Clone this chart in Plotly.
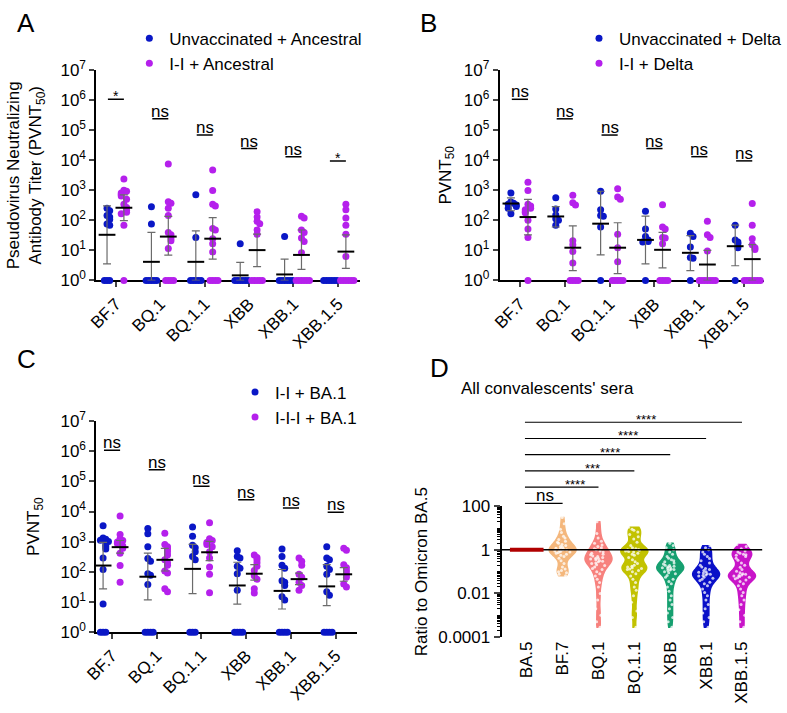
import numpy as np
import plotly.graph_objects as go

# ---- data (log10 titers; 0 = 10^0 floor) ----
variants = ["BF.7", "BQ.1", "BQ.1.1", "XBB", "XBB.1", "XBB.1.5"]

a_unvax_log = [
    [2.40, 2.32, 2.16, 2.11, 2.03, 1.88, 1.84, 0, 0, 0],
    [2.45, 1.88, 0, 0, 0, 0, 0],
    [2.85, 1.43, 0, 0, 0, 0, 0],
    [1.22, 0, 0, 0, 0, 0, 0],
    [1.46, 0, 0, 0, 0, 0, 0],
    [0, 0, 0, 0, 0, 0],
]
a_ii_log = [
    [3.38, 3.00, 2.97, 2.91, 2.86, 2.81, 2.70, 2.54, 2.43, 2.32, 2.27, 2.22, 1.84, 0],
    [3.88, 2.62, 2.57, 2.40, 2.16, 1.60, 1.52, 1.41, 1.32, 1.06, 0, 0, 0, 0],
    [3.68, 2.99, 2.54, 2.48, 1.73, 1.68, 1.39, 1.22, 0.95, 0, 0, 0, 0],
    [2.29, 2.11, 1.97, 1.89, 1.68, 1.54, 0, 0, 0, 0, 0],
    [2.14, 2.08, 1.68, 1.60, 1.41, 1.30, 0.92, 0, 0, 0, 0, 0, 0],
    [2.54, 2.35, 2.08, 1.84, 1.54, 0.80, 0, 0, 0, 0, 0, 0],
]
a_unvax_mean = [1.52, 0.62, 0.62, 0.17, 0.20, None]
a_unvax_hi = [2.48, 1.60, 1.65, 0.60, 0.71, None]
a_unvax_lo = [0.55, 0, 0, 0, 0, None]
a_ii_mean = [2.42, 1.46, 1.39, 1.01, 0.85, 0.96]
a_ii_hi = [2.85, 2.13, 2.09, 1.54, 1.68, 1.52]
a_ii_lo = [1.99, 0.84, 0.71, 0.46, 0.37, 0.40]
a_sig = ["*", "ns", "ns", "ns", "ns", "*"]

b_unvax_log = [
    [2.91, 2.61, 2.57, 2.54, 2.51, 2.46, 2.40, 2.22],
    [2.75, 2.38, 2.18, 2.05, 2.00, 1.84],
    [2.97, 2.35, 2.16, 2.14, 1.78, 0],
    [2.30, 1.71, 1.46, 1.35, 1.30, 1.28, 0],
    [1.57, 1.46, 1.11, 0.76, 0.74, 0],
    [1.84, 1.35, 1.28, 1.22, 1.09, 0],
]
b_ii_log = [
    [3.27, 2.99, 2.54, 2.48, 2.40, 2.35, 2.29, 2.25, 2.00, 1.71, 1.43, 0],
    [2.84, 2.59, 2.51, 1.32, 1.19, 0.96, 0.58, 0, 0, 0, 0],
    [3.05, 2.78, 2.70, 1.54, 1.09, 0.62, 0, 0, 0, 0, 0],
    [2.52, 1.78, 1.71, 1.43, 1.41, 1.22, 0, 0, 0, 0],
    [1.97, 1.52, 1.43, 0.98, 0, 0, 0, 0, 0, 0, 0],
    [2.56, 1.84, 1.39, 1.19, 1.09, 1.03, 0, 0, 0, 0, 0, 0, 0],
]
b_unvax_mean = [2.56, 2.13, 1.89, 1.35, 0.92, 1.14]
b_unvax_hi = [2.75, 2.46, 2.97, 2.14, 1.49, 1.84]
b_unvax_lo = [2.32, 1.78, 0.85, 0.55, 0.33, 0.49]
b_ii_mean = [2.11, 1.09, 1.09, 1.02, 0.53, 0.71]
b_ii_hi = [2.70, 1.82, 1.92, 1.60, 1.00, 1.19]
b_ii_lo = [1.52, 0.33, 0.23, 0.42, 0, 0]
b_sig = ["ns"] * 6

c_ii_log = [
    [3.53, 3.12, 3.08, 3.05, 3.01, 2.90, 2.83, 2.76, 2.46, 2.08, 0.94, 0, 0, 0],
    [3.44, 3.26, 2.83, 2.44, 2.35, 1.94, 1.89, 1.58, 0, 0, 0, 0],
    [3.49, 3.18, 2.88, 2.80, 2.67, 2.51, 2.40, 0, 0, 0],
    [2.70, 2.51, 2.46, 2.19, 2.12, 1.94, 1.39, 0, 0, 0, 0],
    [2.76, 2.51, 2.22, 2.12, 1.71, 1.66, 1.55, 1.18, 1.07, 0, 0, 0, 0],
    [2.83, 2.46, 2.40, 2.19, 2.08, 1.92, 1.34, 1.23, 0, 0, 0, 0],
]
c_iii_log = [
    [3.85, 3.24, 3.10, 3.04, 2.99, 2.94, 2.86, 2.78, 2.62, 2.21, 1.66],
    [3.28, 2.91, 2.83, 2.76, 2.67, 2.56, 2.40, 2.30, 2.22, 2.03, 1.96, 1.44, 1.34],
    [3.63, 3.10, 3.04, 2.97, 2.91, 2.83, 2.67, 2.46, 2.16, 1.92, 1.31],
    [2.56, 2.48, 2.40, 2.30, 2.19, 2.05, 1.87, 1.76, 1.44, 1.30],
    [2.46, 2.35, 2.22, 1.92, 1.82, 1.66, 1.55, 1.39],
    [2.78, 2.72, 2.24, 2.14, 2.03, 1.92, 1.82, 1.60, 1.50],
]
c_ii_mean = [2.21, 1.84, 2.10, 1.55, 1.37, 1.52]
c_ii_hi = [2.98, 2.62, 2.91, 2.32, 2.08, 2.24]
c_ii_lo = [1.44, 1.07, 1.28, 0.93, 0.77, 0.88]
c_iii_mean = [2.82, 2.40, 2.65, 1.94, 1.76, 1.92]
c_iii_hi = [3.04, 2.78, 3.01, 2.24, 1.96, 2.14]
c_iii_lo = [2.62, 2.03, 2.37, 1.73, 1.58, 1.69]
c_sig = ["ns"] * 6

# height (log10) of the significance bars above each variant
sig_level = [6.03, 5.38, 4.84, 4.39, 4.12, 3.98]

# panel D: log10(ratio to BA.5)
d_labels = ["BA.5", "BF.7", "BQ.1", "BQ.1.1", "XBB", "XBB.1", "XBB.1.5"]
d_ba5 = [0.0]
d_bf7 = [1.48, 1.2, 0.95, 0.8, 0.62, 0.55, 0.48, 0.4, 0.35, 0.3, 0.25, 0.2, 0.15, 0.12,
         0.08, 0.05, 0.03, 0.0, 0.0, -0.02, -0.05, -0.08, -0.1, -0.12, -0.15, -0.2, -0.25,
         -0.3, -0.38, -0.5, -0.62, -0.78, -0.88, -0.95, -1.0, -1.05, -1.12, -1.19]
d_bq1 = [1.29, 1.0, 0.75, 0.55, 0.4, 0.3, 0.22, 0.15, 0.1, 0.05, 0.0, -0.05, -0.1, -0.15,
         -0.2, -0.22, -0.28, -0.3, -0.35, -0.38, -0.4, -0.42, -0.45, -0.5, -0.52, -0.55,
         -0.6, -0.62, -0.68, -0.72, -0.78, -0.85, -0.9, -1.0, -1.1, -1.2, -1.35, -1.5,
         -1.7, -2.0, -2.3, -2.7, -3.0, -3.3, -3.55]
d_bq11 = [1.04, 0.95, 0.9, 0.82, 0.7, 0.6, 0.5, 0.35, 0.2, 0.1, 0.05, 0.02, 0.0, -0.02,
          -0.05, -0.08, -0.1, -0.15, -0.2, -0.25, -0.35, -0.45, -0.55, -0.62, -0.7, -0.75,
          -0.78, -0.82, -0.85, -0.88, -0.9, -0.95, -1.0, -1.1, -1.2, -1.35, -1.5, -1.7,
          -1.85, -2.1, -2.4, -2.8, -3.1, -3.55]
d_xbb = [0.3, 0.2, 0.1, 0.0, -0.1, -0.2, -0.3, -0.38, -0.45, -0.5, -0.55, -0.6, -0.65,
         -0.7, -0.72, -0.75, -0.78, -0.8, -0.82, -0.85, -0.88, -0.9, -0.92, -0.95, -1.0,
         -1.05, -1.1, -1.18, -1.25, -1.35, -1.45, -1.55, -1.7, -1.9, -2.1, -2.3, -2.5,
         -2.7, -2.9, -3.1, -3.3, -3.55]
d_xbb1 = [0.19, 0.1, 0.0, -0.1, -0.2, -0.3, -0.4, -0.5, -0.6, -0.7, -0.78, -0.85, -0.9,
          -0.95, -1.0, -1.03, -1.06, -1.1, -1.12, -1.15, -1.18, -1.2, -1.25, -1.3, -1.35,
          -1.4, -1.48, -1.55, -1.65, -1.8, -1.95, -2.1, -2.3, -2.5, -2.7, -2.9, -3.1,
          -3.3, -3.55]
d_xbb15 = [0.25, 0.15, 0.05, -0.05, -0.1, -0.15, -0.2, -0.22, -0.25, -0.3, -0.38, -0.48,
           -0.6, -0.7, -0.8, -0.9, -0.98, -1.05, -1.1, -1.12, -1.15, -1.18, -1.2, -1.22,
           -1.25, -1.28, -1.32, -1.38, -1.45, -1.55, -1.65, -1.8, -1.95, -2.1, -2.3, -2.5,
           -2.75, -3.0, -3.3, -3.55]
d_sig = ["ns", "****", "***", "****", "****", "****"]

BLUE = "#0a17c6"
PURPLE = "#b520ec"
d_colors = ["#b00000", "#f4b77c", "#f7817d", "#c2c200", "#16a070", "#0a10c8", "#c814c8"]
FONT = "Liberation Sans, Arial, sans-serif"
FS = 17
W, H = 787, 713


def xdom(left, right):
    return [left / W, right / W]


def ydom(top, bottom):
    return [1 - bottom / H, 1 - top / H]


def swarm(vals, center, step=0.06, gap=0.13):
    # spread points that sit close together, like a Prism dot plot
    xs, placed = [], []
    for v in vals:
        k = sum(1 for p in placed if abs(p - v) < gap)
        placed.append(v)
        off = step * ((k + 1) // 2) * (1 if k % 2 else -1)
        xs.append(center + off)
    return xs


fig = go.Figure()


def add_points(groups, offset, color, name, ax, legend):
    xs, ys = [], []
    for i, vals in enumerate(groups):
        xs += swarm(vals, i + offset)
        ys += [10 ** v for v in vals]
    fig.add_trace(go.Scatter(
        x=xs, y=ys, mode="markers", name=name, legend=legend,
        marker=dict(size=7, color=color), cliponaxis=False,
        xaxis="x" + ax, yaxis="y" + ax))


def add_means(mean, hi, lo, offset, ax):
    xs, ys, up, down = [], [], [], []
    for i, m in enumerate(mean):
        if m is None:
            continue
        xs.append(i + offset)
        ys.append(10 ** m)
        up.append(10 ** hi[i] - 10 ** m)
        down.append(10 ** m - 10 ** lo[i])
    fig.add_trace(go.Scatter(
        x=xs, y=ys, mode="markers", showlegend=False, cliponaxis=False,
        marker=dict(symbol="line-ew", size=12, line=dict(width=2, color="black")),
        error_y=dict(type="data", symmetric=False, array=up, arrayminus=down,
                     color="#6b6b6b", thickness=1.2, width=4),
        xaxis="x" + ax, yaxis="y" + ax))


panels = [
    ("", a_unvax_log, a_ii_log, "Unvaccinated + Ancestral", "I-I + Ancestral",
     (a_unvax_mean, a_unvax_hi, a_unvax_lo), (a_ii_mean, a_ii_hi, a_ii_lo), a_sig, "legend"),
    ("2", b_unvax_log, b_ii_log, "Unvaccinated + Delta", "I-I + Delta",
     (b_unvax_mean, b_unvax_hi, b_unvax_lo), (b_ii_mean, b_ii_hi, b_ii_lo), b_sig, "legend2"),
    ("3", c_ii_log, c_iii_log, "I-I + BA.1", "I-I-I + BA.1",
     (c_ii_mean, c_ii_hi, c_ii_lo), (c_iii_mean, c_iii_hi, c_iii_lo), c_sig, "legend3"),
]

shapes, annotations = [], []
for ax, g1, g2, n1, n2, s1, s2, sig, leg in panels:
    add_points(g1, -0.2, BLUE, n1, ax, leg)
    add_points(g2, 0.18, PURPLE, n2, ax, leg)
    add_means(*s1, -0.2, ax)
    add_means(*s2, 0.18, ax)
    for i, (lab, lev) in enumerate(zip(sig, sig_level)):
        shapes.append(dict(type="line", xref="x" + ax, yref="y%s domain" % ax,
                           x0=i - 0.18, x1=i + 0.18, y0=lev / 7, y1=lev / 7,
                           line=dict(color="black", width=1.5)))
        annotations.append(dict(text=lab, xref="x" + ax, yref="y%s domain" % ax,
                                x=i, y=lev / 7, yanchor="bottom", showarrow=False,
                                yshift=-4 if lab == "ns" else -7,
                                font=dict(size=FS if lab == "ns" else 14)))

# panel D
d_series = [d_bf7, d_bq1, d_bq11, d_xbb, d_xbb1, d_xbb15]
d_xrange = [-0.70, 6.57]
fig.add_trace(go.Scatter(x=d_xrange, y=[0, 0], mode="lines", showlegend=False,
                         line=dict(color="black", width=1.5), xaxis="x4", yaxis="y4"))
fig.add_trace(go.Scatter(x=[0] * len(d_ba5), y=d_ba5, mode="markers", showlegend=False,
                         marker=dict(symbol="line-ew", size=24,
                                     line=dict(width=4, color=d_colors[0])),
                         xaxis="x4", yaxis="y4"))
for i, vals in enumerate(d_series, start=1):
    col = d_colors[i]
    fig.add_trace(go.Violin(
        x=[i] * len(vals), y=vals, showlegend=False, width=0.75, scalemode="width",
        spanmode="hard", bandwidth=0.2, fillcolor=col, line=dict(color=col, width=1.5),
        opacity=1, points="all", pointpos=0, jitter=0.7,
        marker=dict(size=3, color="rgba(255,255,255,0.75)"),
        xaxis="x4", yaxis="y4"))

for k, lab in enumerate(d_sig):
    yy = 1.022 + 0.124 * k
    shapes.append(dict(type="line", xref="x4", yref="y4 domain", x0=-0.05, x1=k + 1,
                       y0=yy, y1=yy, line=dict(color="black", width=1.2)))
    annotations.append(dict(text=lab, xref="x4", yref="y4 domain", x=(k + 1) / 2,
                            y=yy, yanchor="bottom", showarrow=False,
                            xshift=0 if lab == "ns" else 12,
                            yshift=-4 if lab == "ns" else -7,
                            font=dict(size=FS if lab == "ns" else 13)))

annotations.append(dict(text="All convalescents' sera", xref="paper", yref="paper",
                        x=643 / W, y=1 - 389 / H, showarrow=False, font=dict(size=FS)))
for letter, px, py in [("A", 2, -6), ("B", 418, -6), ("C", 2, 341), ("D", 428, 350)]:
    annotations.append(dict(text=letter, xref="paper", yref="paper", x=px / W,
                            y=1 - py / H, xanchor="left", yanchor="top",
                            showarrow=False, font=dict(size=26)))

log_ticks = dict(type="log", range=[0, 7], tickvals=[10 ** k for k in range(8)],
                 ticktext=["10<sup>%d</sup>" % k for k in range(8)],
                 showline=True, linewidth=2, linecolor="black", ticks="outside",
                 ticklen=5, tickwidth=2, showgrid=False, zeroline=False,
                 tickfont=dict(size=FS))
cat_ticks = dict(tickvals=list(range(6)), ticktext=variants, tickangle=-45,
                 showline=True, linewidth=2, linecolor="black", ticks="outside",
                 ticklen=5, tickwidth=2, showgrid=False, zeroline=False,
                 tickfont=dict(size=FS), layer="below traces")

d_minor = [d + np.log10(m) for d in range(-4, 2) for m in range(2, 10)] + [-3, -1, 1]

legend_style = dict(xanchor="left", yanchor="top", bgcolor="rgba(0,0,0,0)",
                    font=dict(size=FS), itemsizing="trace", tracegroupgap=0)

fig.update_layout(
    width=W, height=H, margin=dict(l=0, r=0, t=0, b=0),
    plot_bgcolor="white", paper_bgcolor="white",
    font=dict(family=FONT, size=FS, color="black"),
    violinmode="overlay",
    xaxis=dict(domain=xdom(86, 358), range=[-0.44, 5.5], **cat_ticks),
    yaxis=dict(domain=ydom(60, 277), anchor="x",
               title=dict(text="Pseudovirus Neutralizing<br>Antibody Titer (PVNT<sub>50</sub>)",
                          font=dict(size=FS), standoff=14), **log_ticks),
    xaxis2=dict(domain=xdom(502, 775), range=[-0.45, 5.45], anchor="y2", **cat_ticks),
    yaxis2=dict(domain=ydom(60, 277), anchor="x2",
                title=dict(text="PVNT<sub>50</sub>", font=dict(size=FS), standoff=8),
                **log_ticks),
    xaxis3=dict(domain=xdom(86, 355), range=[-0.35, 5.48], anchor="y3", **cat_ticks),
    yaxis3=dict(domain=ydom(422, 640), anchor="x3",
                title=dict(text="PVNT<sub>50</sub>", font=dict(size=FS), standoff=16),
                **log_ticks),
    xaxis4=dict(domain=xdom(504, 773), range=d_xrange, anchor="y4",
                tickvals=list(range(7)), ticktext=d_labels, tickangle=-90,
                showline=False, ticks="", showgrid=False, zeroline=False,
                tickfont=dict(size=FS)),
    yaxis4=dict(domain=ydom(510, 645), anchor="x4", range=[-4, 2],
                tickvals=[-4, -2, 0, 2], ticktext=["0.0001", "0.01", "1", "100"],
                showline=True, linewidth=2, linecolor="black", ticks="outside",
                ticklen=6, tickwidth=2, showgrid=False, zeroline=False,
                tickfont=dict(size=FS),
                minor=dict(tickvals=d_minor, ticks="outside", ticklen=3,
                           tickwidth=1, tickcolor="black"),
                title=dict(text="Ratio to Omicron BA.5", font=dict(size=FS), standoff=6)),
    legend=dict(x=120 / W, y=1 - 9 / H, **legend_style),
    legend2=dict(x=584 / W, y=1 - 9 / H, **legend_style),
    legend3=dict(x=229 / W, y=1 - 374 / H, **legend_style),
    shapes=shapes, annotations=annotations,
)

fig.write_html("out.html", config={"displayModeBar": False},
               post_script="document.body.style.margin='0';")
